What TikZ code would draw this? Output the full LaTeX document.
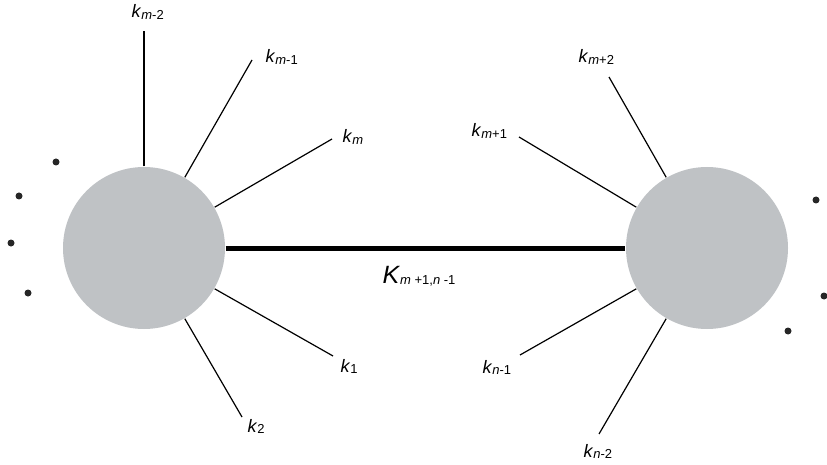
\documentclass[tikz,border=0pt]{standalone}
\usepackage{fontspec}
\setmainfont{Liberation Sans}
\usepackage{tikz}

\definecolor{blobgray}{RGB}{191,194,197}

% momentum label: k with a small subscript
\newcommand{\kmom}[2]{{\fontsize{18}{18}\selectfont\textit{k}}%
  \raisebox{-1.5pt}{\fontsize{13}{13}\selectfont\textit{#1}#2}}

\begin{document}
\begin{tikzpicture}[
            x = 1pt, y = -1pt, % picture units, y downwards
            node distance = 563pt, % distance between the blobs
            line width = 1.2pt % line style
        ]

        \tikzstyle{blob}=[
            circle,
            fill = blobgray,
            inner sep = 0pt,
            minimum size = 162pt
        ]
        \tikzstyle{dot}=[
            circle,
            fill = black!85,
            inner sep = 0pt,
            minimum size = 7pt
        ]
        \tikzstyle{lab}=[
            anchor = base west,
            inner sep = 0pt
        ]

        \useasboundingbox (0,0) rectangle (827,465);

        \node[blob] (l) at (144,248) {};
        \node[blob] (r) [right of=l] {};

        % free ends of the lines
        \coordinate (em2) at (144,31);
        \coordinate (em1) at (252,60);
        \coordinate (em) at (332,139);
        \coordinate (e1) at (333,356);
        \coordinate (e2) at (242,417);
        \coordinate (emp2) at (609,77);
        \coordinate (emp1) at (519,137);
        \coordinate (en1) at (520,355);
        \coordinate (en2) at (599,434);

        \node[lab] (km2) at (131,18) {\kmom{m}{-2}};
        \node[lab] (km1) at (265,63) {\kmom{m}{-1}};
        \node[lab] (km) at (342,143) {\kmom{m}{}};
        \node[lab] (k1) at (340,372) {\kmom{}{1}};
        \node[lab] (k2) at (247,432) {\kmom{}{2}};
        \node[lab] (kmp2) at (578,63) {\kmom{m}{+2}};
        \node[lab] (kmp1) at (471,137) {\kmom{m}{+1}};
        \node[lab] (kn1) at (482,373) {\kmom{n}{-1}};
        \node[lab] (kn2) at (583,457) {\kmom{n}{-2}};
        \node[lab] (kk) at (382,283) {{\fontsize{25}{25}\selectfont\textit{K}}%
            \raisebox{-1pt}{\fontsize{13}{13}\selectfont\textit{m} +1,\textit{n} -1}};

        \node[dot] (d1) at (56,162) {};
        \node[dot] (d2) at (19,196) {};
        \node[dot] (d3) at (11,243) {};
        \node[dot] (d4) at (28,293) {};
        \node[dot] (d5) at (816,200) {};
        \node[dot] (d6) at (824,296) {};
        \node[dot] (d7) at (788,331) {};

        \path[draw] (l.90) edge (em2);
        \path[draw] (l.60) edge (em1);
        \path[draw] (l.30) edge (em);
        \path[draw] (l.-30) edge (e1);
        \path[draw] (l.-60) edge (e2);
        \path[draw] (r.120) edge (emp2);
        \path[draw] (r.150) edge (emp1);
        \path[draw] (r.210) edge (en1);
        \path[draw] (r.240) edge (en2);
        \path[draw, line width = 5pt] (l) edge (r);

  \end{tikzpicture}
\end{document}
